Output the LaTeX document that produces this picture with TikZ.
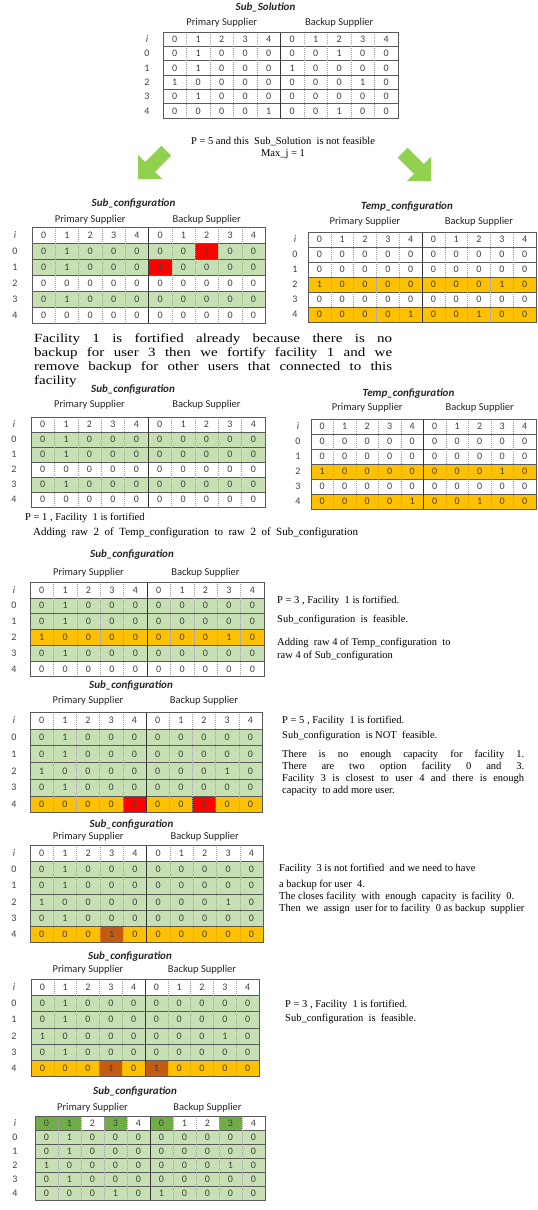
\documentclass[tikz,border=0pt]{standalone}
\usepackage{fontspec}
\setmainfont{Liberation Serif}
\newfontfamily\calfont{Carlito}
\newfontfamily\widefont[FakeStretch=1.2]{Liberation Serif}
\definecolor{lgreen}{HTML}{C6E0B4}
\definecolor{cyel}{HTML}{FFC000}
\definecolor{cred}{HTML}{FF0000}
\definecolor{cbrown}{HTML}{C55A11}
\definecolor{dgreen}{HTML}{70AD47}
\definecolor{agreen}{HTML}{92D050}
\definecolor{digit}{HTML}{404040}
\definecolor{gridc}{HTML}{5A5A5A}
\tikzset{
  cell/.style={inner sep=0pt, outer sep=0pt, font=\calfont\fontsize{10}{12}\selectfont, text=digit},
  lab/.style={inner sep=0pt, font=\calfont\fontsize{10}{12}\selectfont, text=digit},
  ttl/.style={inner sep=0pt, font=\calfont\bfseries\itshape\fontsize{11}{13}\selectfont, text=black!85},
  suplab/.style={inner sep=0pt, font=\calfont\fontsize{10.5}{12}\selectfont, text=black!85},
  hl/.style={draw=gridc, line width=0.6pt},
  vl/.style={draw=gray!75, line width=0.4pt, dash pattern=on 1pt off 1pt},
  ml/.style={draw=black!80, line width=0.8pt},
  bl/.style={draw=gridc, line width=0.8pt},
  txt/.style={inner sep=0pt, anchor=base west, font=\fontsize{10.5}{12.5}\selectfont},
  txtc/.style={inner sep=0pt, anchor=base, font=\fontsize{10.5}{12.5}\selectfont},
  ptxt/.style={inner sep=0pt, anchor=base west, font=\widefont\fontsize{12.5}{14}\selectfont},
  blockarrow/.style={fill=agreen},
}
\newcommand\settab[5]{\def\TN{#1}\def\TL{#2}\def\TT{#3}\def\TW{#4}\def\TH{#5}}
\newcommand\trow[3]{%
  \foreach \v [count=\k from 0] in {#3} {
    \node[cell, fill=#2, minimum width=\TW pt, minimum height=\TH pt] (\TN-#1-\k) at ({\TL+(\k+0.5)*\TW},{\TT+(#1+0.5)*\TH}) {\v};
  }}
\newcommand\tcell[4]{%
  \node[cell, fill=#3, minimum width=\TW pt, minimum height=\TH pt] (\TN-#1-#2h) at ({\TL+(#2+0.5)*\TW},{\TT+(#1+0.5)*\TH}) {#4};}
\newcommand\tgrid{%
  \foreach \r in {1,...,5} {\draw[hl] ({\TL},{\TT+\r*\TH}) -- ({\TL+10*\TW},{\TT+\r*\TH});}
  \foreach \k in {1,2,3,4,6,7,8,9} {\draw[vl] ({\TL+\k*\TW},{\TT}) -- ({\TL+\k*\TW},{\TT+6*\TH});}
  \draw[ml] ({\TL+5*\TW},{\TT}) -- ({\TL+5*\TW},{\TT+6*\TH});
  \draw[bl] ({\TL},{\TT}) rectangle ({\TL+10*\TW},{\TT+6*\TH});}
\newcommand\tlabels[1]{%
  \node[lab] (\TN-i) at (#1,{\TT+0.5*\TH}) {\textit{i}};
  \foreach \r in {0,...,4} {\node[lab] (\TN-l\r) at (#1,{\TT+(\r+1.5)*\TH}) {\r};}}
\newcommand\ttitle[3]{%
  \node[ttl] (\TN-title) at ({\TL+5*\TW-15},#2) {#1};
  \node[suplab] (\TN-ps) at ({\TL+2.5*\TW},#3) {Primary Supplier};
  \node[suplab] (\TN-bs) at ({\TL+7.5*\TW},#3) {Backup Supplier};}
\newcommand\jl[5]{\node[#1] (#2) at #3 {\makebox[#4][s]{#5}};}
\begin{document}
\begin{tikzpicture}[x=1pt,y=-1pt]
\useasboundingbox (0,0) rectangle (538,1210);
\fill[white] (0,0) rectangle (538,1210);

% ---------- Sub_Solution
\settab{sol}{163}{32}{23.5}{14.33}
\trow{0}{white}{0,1,2,3,4,0,1,2,3,4}
\trow{1}{white}{0,1,0,0,0,0,0,1,0,0}
\trow{2}{white}{0,1,0,0,0,1,0,0,0,0}
\trow{3}{white}{1,0,0,0,0,0,0,0,1,0}
\trow{4}{white}{0,1,0,0,0,0,0,0,0,0}
\trow{5}{white}{0,0,0,0,1,0,0,1,0,0}
\tgrid \tlabels{147} \ttitle{Sub\_Solution}{7}{23}

\node[txtc] (p5) at (283,144.5) {P = 5 and this\ \ Sub\_Solution\ \ is not feasible};
\node[txtc] (maxj) at (283,156.5) {Max\_j = 1};

% arrows
\fill[blockarrow, shift={(138,179)}, rotate=225] (0,0) -- (-17,17) -- (-17,7) -- (-40,7) -- (-40,-7) -- (-17,-7) -- (-17,-17) -- cycle;
\fill[blockarrow, shift={(431,181)}, rotate=-45] (0,0) -- (-17,17) -- (-17,7) -- (-40,7) -- (-40,-7) -- (-17,-7) -- (-17,-17) -- cycle;

% ---------- Sub_configuration 1
\settab{sca}{32}{227}{23.3}{16}
\trow{0}{white}{0,1,2,3,4,0,1,2,3,4}
\trow{1}{lgreen}{0,1,0,0,0,0,0,1,0,0} \tcell{1}{7}{cred}{1}
\trow{2}{lgreen}{0,1,0,0,0,1,0,0,0,0} \tcell{2}{5}{cred}{1}
\trow{3}{white}{0,0,0,0,0,0,0,0,0,0}
\trow{4}{lgreen}{0,1,0,0,0,0,0,0,0,0}
\trow{5}{white}{0,0,0,0,0,0,0,0,0,0}
\tgrid \tlabels{15} \ttitle{Sub\_configuration}{204}{220}

% ---------- Temp_configuration 1
\settab{tca}{308}{232}{22.8}{15}
\trow{0}{white}{0,1,2,3,4,0,1,2,3,4}
\trow{1}{white}{0,0,0,0,0,0,0,0,0,0}
\trow{2}{white}{0,0,0,0,0,0,0,0,0,0}
\trow{3}{cyel}{1,0,0,0,0,0,0,0,1,0}
\trow{4}{white}{0,0,0,0,0,0,0,0,0,0}
\trow{5}{cyel}{0,0,0,0,1,0,0,1,0,0}
\tgrid \tlabels{295} \ttitle{Temp\_configuration}{207}{222}

\jl{ptxt}{pa1}{(34,342)}{358pt}{Facility 1 is fortified already because there is no}
\jl{ptxt}{pa2}{(34,356)}{358pt}{backup for user 3 then we fortify facility 1 and we}
\jl{ptxt}{pa3}{(34,370)}{358pt}{remove backup for other users that connected to this}
\node[ptxt] (pa4) at (34,384) {facility};

% ---------- Sub_configuration 2
\settab{scb}{31}{417}{23.4}{15}
\trow{0}{white}{0,1,2,3,4,0,1,2,3,4}
\trow{1}{lgreen}{0,1,0,0,0,0,0,0,0,0}
\trow{2}{lgreen}{0,1,0,0,0,0,0,0,0,0}
\trow{3}{white}{0,0,0,0,0,0,0,0,0,0}
\trow{4}{lgreen}{0,1,0,0,0,0,0,0,0,0}
\trow{5}{white}{0,0,0,0,0,0,0,0,0,0}
\tgrid \tlabels{14} \ttitle{Sub\_configuration}{390}{405}

% ---------- Temp_configuration 2
\settab{tcb}{311}{419}{22.5}{15}
\trow{0}{white}{0,1,2,3,4,0,1,2,3,4}
\trow{1}{white}{0,0,0,0,0,0,0,0,0,0}
\trow{2}{white}{0,0,0,0,0,0,0,0,0,0}
\trow{3}{cyel}{1,0,0,0,0,0,0,0,1,0}
\trow{4}{white}{0,0,0,0,0,0,0,0,0,0}
\trow{5}{cyel}{0,0,0,0,1,0,0,1,0,0}
\tgrid \tlabels{298} \ttitle{Temp\_configuration}{394}{408}

\node[txt] (pb1) at (25,520.5) {P = 1 , Facility\ \ 1 is fortified};
\node[txt, font=\fontsize{11}{13}\selectfont] (pb2) at (33,535.5) {Adding\ \ raw\ \ 2\ \ of\ \ Temp\_configuration\ \ to\ \ raw\ \ 2\ \ of\ \ Sub\_configuration};

% ---------- Sub_configuration 3
\settab{scc}{30}{582}{23.4}{15.8}
\trow{0}{white}{0,1,2,3,4,0,1,2,3,4}
\trow{1}{lgreen}{0,1,0,0,0,0,0,0,0,0}
\trow{2}{lgreen}{0,1,0,0,0,0,0,0,0,0}
\trow{3}{cyel}{1,0,0,0,0,0,0,0,1,0}
\trow{4}{lgreen}{0,1,0,0,0,0,0,0,0,0}
\trow{5}{white}{0,0,0,0,0,0,0,0,0,0}
\tgrid \tlabels{14} \ttitle{Sub\_configuration}{555}{573}

\node[txt] (pc1) at (277,603.5) {P = 3 , Facility\ \ 1 is fortified.};
\node[txt] (pc2) at (277,622.5) {Sub\_configuration\ \ is\ \ feasible.};
\node[txt] (pc3) at (277,645.5) {Adding\ \ raw 4 of Temp\_configuration\ \ to};
\node[txt] (pc4) at (277,658.5) {raw 4 of Sub\_configuration};

% ---------- Sub_configuration 4
\settab{scd}{30}{712}{23.2}{16.8}
\trow{0}{white}{0,1,2,3,4,0,1,2,3,4}
\trow{1}{lgreen}{0,1,0,0,0,0,0,0,0,0}
\trow{2}{lgreen}{0,1,0,0,0,0,0,0,0,0}
\trow{3}{lgreen}{1,0,0,0,0,0,0,0,1,0}
\trow{4}{lgreen}{0,1,0,0,0,0,0,0,0,0}
\trow{5}{cyel}{0,0,0,0,1,0,0,1,0,0} \tcell{5}{4}{cred}{1} \tcell{5}{7}{cred}{1}
\tgrid \tlabels{14} \ttitle{Sub\_configuration}{686}{701}

\node[txt] (pd1) at (282,723.5) {P = 5 , Facility\ \ 1 is fortified.};
\node[txt] (pd2) at (282,738.5) {Sub\_configuration\ \ is NOT\ \ feasible.};
\jl{txt}{pd3}{(282,757.5)}{242pt}{There is no enough capacity for facility 1.}
\jl{txt}{pd4}{(282,769.5)}{242pt}{There are two option facility 0 and 3.}
\jl{txt}{pd5}{(282,781.5)}{242pt}{Facility 3 is closest to user 4 and there is enough}
\node[txt] (pd6) at (282,793.5) {capacity\ \ to add more user.};

% ---------- Sub_configuration 5
\settab{sce}{30}{845}{23.3}{16.3}
\trow{0}{white}{0,1,2,3,4,0,1,2,3,4}
\trow{1}{lgreen}{0,1,0,0,0,0,0,0,0,0}
\trow{2}{lgreen}{0,1,0,0,0,0,0,0,0,0}
\trow{3}{lgreen}{1,0,0,0,0,0,0,0,1,0}
\trow{4}{lgreen}{0,1,0,0,0,0,0,0,0,0}
\trow{5}{cyel}{0,0,0,1,0,0,0,0,0,0} \tcell{5}{3}{cbrown}{1}
\tgrid \tlabels{14} \ttitle{Sub\_configuration}{825}{837}

\node[txt] (pe1) at (279,871.5) {Facility\ \ 3 is not fortified\ \ and we need to have};
\node[txt] (pe2) at (279,887.5) {a backup for user\ \ 4.};
\node[txt] (pe3) at (279,899.5) {The closes facility\ \ with\ \ enough\ \ capacity\ \ is facility\ \ 0.};
\node[txt] (pe4) at (279,911.5) {Then\ \ we\ \ assign\ \ user for to facility\ \ 0 as backup\ \ supplier};

% ---------- Sub_configuration 6
\settab{scf}{31}{979}{22.8}{16.3}
\trow{0}{white}{0,1,2,3,4,0,1,2,3,4}
\trow{1}{lgreen}{0,1,0,0,0,0,0,0,0,0}
\trow{2}{lgreen}{0,1,0,0,0,0,0,0,0,0}
\trow{3}{lgreen}{1,0,0,0,0,0,0,0,1,0}
\trow{4}{lgreen}{0,1,0,0,0,0,0,0,0,0}
\trow{5}{cyel}{0,0,0,1,0,1,0,0,0,0} \tcell{5}{3}{cbrown}{1} \tcell{5}{5}{cbrown}{1}
\tgrid \tlabels{14} \ttitle{Sub\_configuration}{957}{970}

\node[txt] (pf1) at (285,1007.5) {P = 3 , Facility\ \ 1 is fortified.};
\node[txt] (pf2) at (285,1021.5) {Sub\_configuration\ \ is\ \ feasible.};

% ---------- Sub_configuration 7 (final)
\settab{scg}{35}{1116}{23}{14}
\trow{0}{white}{0,1,2,3,4,0,1,2,3,4}
\tcell{0}{0}{dgreen}{0} \tcell{0}{1}{dgreen}{1} \tcell{0}{3}{dgreen}{3}
\tcell{0}{5}{dgreen}{0} \tcell{0}{8}{dgreen}{3}
\trow{1}{lgreen}{0,1,0,0,0,0,0,0,0,0}
\trow{2}{lgreen}{0,1,0,0,0,0,0,0,0,0}
\trow{3}{lgreen}{1,0,0,0,0,0,0,0,1,0}
\trow{4}{lgreen}{0,1,0,0,0,0,0,0,0,0}
\trow{5}{lgreen}{0,0,0,1,0,1,0,0,0,0}
\tgrid \tlabels{15} \ttitle{Sub\_configuration}{1092}{1108}
\end{tikzpicture}
\end{document}
